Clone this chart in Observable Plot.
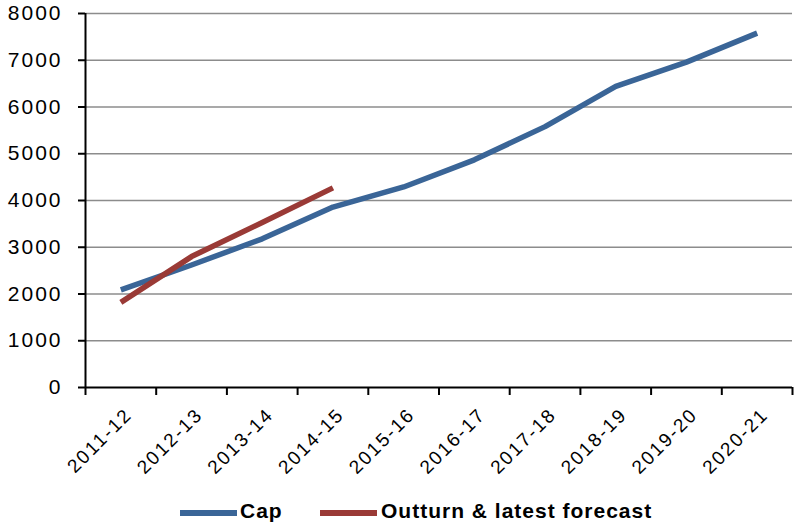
<!DOCTYPE html>
<html><head><meta charset="utf-8">
<script src="https://cdn.jsdelivr.net/npm/d3@7"></script>
<script src="https://cdn.jsdelivr.net/npm/@observablehq/plot@0.6"></script>
<style>
body{margin:0;background:#fff;font-family:"Liberation Sans",Arial,Helvetica,sans-serif}
#wrap{position:relative;width:795px;height:525px;overflow:hidden}
#chart svg{display:block}
g[aria-label="y-axis tick label"] text{letter-spacing:2px}
g[aria-label="x-axis tick label"] text{letter-spacing:2px}
.lg{position:absolute;font-weight:bold;font-size:21px;letter-spacing:1px;line-height:21px;color:#000;white-space:nowrap}
.sw{position:absolute;height:6px;width:57px}
</style></head><body>
<div id="wrap"><div id="chart"></div></div>
<script>
const categories = ["2011-12","2012-13","2013-14","2014-15","2015-16","2016-17","2017-18","2018-19","2019-20","2020-21"];
const capValues = [2090, 2620, 3180, 3860, 4290, 4870, 5580, 6440, 6960, 7580];
const outturnValues = [1820, 2800, 3530, 4270];
const yTicks = [0, 1000, 2000, 3000, 4000, 5000, 6000, 7000, 8000];
const seriesNames = ["Cap", "Outturn & latest forecast"];
const seriesColors = ["#3a6597", "#9a3a36"];

const capData = capValues.map((v, i) => ({i, v}));
const outData = outturnValues.map((v, i) => ({i, v}));
const idx = categories.map((_, i) => i);
const bounds = [...idx.map(i => i - 0.5), categories.length - 0.5];

const chart = Plot.plot({
  width: 795,
  height: 490,
  marginLeft: 85,
  marginRight: 3,
  marginTop: 13,
  marginBottom: 103,
  style: {fontFamily: '"Liberation Sans", Arial, sans-serif', color: "#000", background: "#fff"},
  x: {type: "linear", domain: [-0.5, categories.length - 0.5]},
  y: {domain: [0, 8000]},
  marks: [
    Plot.ruleY(yTicks.slice(1), {stroke: "#8c8c8c", strokeWidth: 1.5}),
    Plot.axisY({ticks: yTicks, tickSize: 7, tickPadding: 16, fontSize: 21, tickFormat: d => String(d), stroke: "#000", strokeWidth: 2, label: null}),
    Plot.axisX({ticks: bounds, tickSize: 8, tickFormat: () => "", stroke: "#000", strokeWidth: 2, label: null}),
    Plot.axisX({ticks: idx, tickSize: 0, tickPadding: 24, dx: 8, tickRotate: -45, fontSize: 19, tickFormat: i => categories[i], label: null}),
    Plot.ruleX([-0.5], {stroke: "#000", strokeWidth: 2}),
    Plot.ruleY([0], {stroke: "#000", strokeWidth: 2}),
    Plot.line(capData, {x: "i", y: "v", stroke: seriesColors[0], strokeWidth: 5.5, strokeLinecap: "butt", strokeLinejoin: "round"}),
    Plot.line(outData, {x: "i", y: "v", stroke: seriesColors[1], strokeWidth: 5.5, strokeLinecap: "butt", strokeLinejoin: "round"})
  ]
});
document.getElementById("chart").appendChild(chart);

// legend below the chart
const wrap = document.getElementById("wrap");
const legendPos = [{sw: 180, tx: 240}, {sw: 320, tx: 381}];
seriesNames.forEach((name, k) => {
  const sw = document.createElement("div");
  sw.className = "sw";
  sw.style.left = legendPos[k].sw + "px";
  sw.style.top = "510px";
  sw.style.background = seriesColors[k];
  wrap.appendChild(sw);
  const t = document.createElement("div");
  t.className = "lg";
  t.style.left = legendPos[k].tx + "px";
  t.style.top = "500px";
  t.textContent = name;
  wrap.appendChild(t);
});
</script>
</body></html>
